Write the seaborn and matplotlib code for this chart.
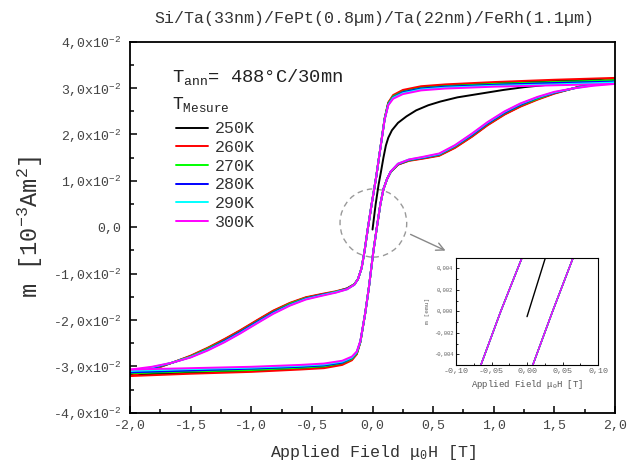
import pandas as pd
import matplotlib
matplotlib.use('Agg')
import matplotlib.pyplot as plt
import seaborn as sns
from matplotlib.patches import Ellipse
from matplotlib.lines import Line2D
from matplotlib.ticker import MultipleLocator, FuncFormatter

# field sweeps (T)
field_down = [2.0, 1.5, 1.0, 0.6, 0.4, 0.25, 0.17, 0.13, 0.10, 0.06, 0.03, -0.007, -0.037, -0.065, -0.09, -0.12,
              -0.15, -0.21, -0.30, -0.42, -0.55, -0.68, -0.82, -0.95, -1.09, -1.22, -1.36, -1.50, -1.65, -1.82, -2.0]
field_up = [-2.0, -1.5, -1.0, -0.6, -0.4, -0.25, -0.17, -0.13, -0.10, -0.06, -0.03, 0.007, 0.036, 0.065, 0.09, 0.12,
            0.15, 0.21, 0.30, 0.42, 0.55, 0.68, 0.82, 0.95, 1.09, 1.22, 1.36, 1.50, 1.65, 1.82, 2.0]
field_virgin = [0.0, 0.025, 0.05, 0.07, 0.09, 0.11, 0.13, 0.16, 0.21, 0.28, 0.36, 0.46, 0.56, 0.70, 0.89, 1.08,
                1.25, 1.44, 1.60, 1.80, 2.0]

# magnetisation, in units of 1e-2 (10^-3 Am^2)
down_250 = [3.19, 3.16, 3.11, 3.06, 3.02, 2.94, 2.83, 2.68, 2.34, 1.62, 1.08, 0.50, 0.00, -0.50, -0.88, -1.12,
            -1.23, -1.32, -1.39, -1.45, -1.52, -1.64, -1.81, -2.01, -2.23, -2.42, -2.61, -2.78, -2.92, -3.07, -3.18]
down_260 = [3.22, 3.18, 3.13, 3.08, 3.04, 2.96, 2.85, 2.69, 2.35, 1.62, 1.08, 0.50, 0.00, -0.50, -0.88, -1.12,
            -1.23, -1.32, -1.38, -1.44, -1.51, -1.63, -1.80, -2.00, -2.22, -2.41, -2.60, -2.77, -2.92, -3.08, -3.21]
down_270 = [3.17, 3.13, 3.09, 3.04, 3.00, 2.92, 2.82, 2.67, 2.34, 1.62, 1.08, 0.50, 0.00, -0.50, -0.88, -1.12,
            -1.23, -1.33, -1.39, -1.46, -1.53, -1.65, -1.83, -2.03, -2.25, -2.44, -2.62, -2.79, -2.92, -3.05, -3.15]
down_280 = [3.14, 3.11, 3.07, 3.03, 2.99, 2.91, 2.80, 2.65, 2.33, 1.62, 1.08, 0.50, 0.00, -0.50, -0.88, -1.12,
            -1.24, -1.33, -1.40, -1.46, -1.54, -1.67, -1.84, -2.04, -2.26, -2.45, -2.64, -2.80, -2.92, -3.04, -3.13]
down_290 = [3.12, 3.08, 3.05, 3.01, 2.97, 2.89, 2.79, 2.64, 2.33, 1.62, 1.08, 0.50, 0.00, -0.50, -0.88, -1.12,
            -1.24, -1.34, -1.40, -1.47, -1.55, -1.68, -1.86, -2.06, -2.28, -2.47, -2.65, -2.80, -2.92, -3.02, -3.10]
down_300 = [3.09, 3.06, 3.03, 2.99, 2.95, 2.87, 2.77, 2.63, 2.32, 1.62, 1.08, 0.50, 0.00, -0.50, -0.88, -1.12,
            -1.24, -1.34, -1.41, -1.48, -1.56, -1.69, -1.87, -2.07, -2.29, -2.48, -2.66, -2.81, -2.92, -3.01, -3.07]

up_250 = [-3.18, -3.14, -3.10, -3.05, -3.02, -2.95, -2.85, -2.73, -2.47, -1.85, -1.30, -0.52, 0.00, 0.50, 0.82, 1.04,
          1.19, 1.35, 1.44, 1.49, 1.55, 1.72, 1.96, 2.21, 2.44, 2.61, 2.76, 2.89, 2.99, 3.11, 3.19]
up_260 = [-3.21, -3.16, -3.12, -3.07, -3.04, -2.97, -2.87, -2.74, -2.48, -1.85, -1.30, -0.52, 0.00, 0.50, 0.82, 1.04,
          1.19, 1.35, 1.43, 1.48, 1.54, 1.71, 1.95, 2.20, 2.43, 2.60, 2.75, 2.88, 2.99, 3.12, 3.22]
up_270 = [-3.15, -3.11, -3.08, -3.03, -3.00, -2.93, -2.84, -2.72, -2.47, -1.85, -1.30, -0.52, 0.00, 0.50, 0.82, 1.04,
          1.19, 1.36, 1.44, 1.50, 1.56, 1.74, 1.98, 2.23, 2.46, 2.63, 2.77, 2.90, 2.99, 3.09, 3.17]
up_280 = [-3.13, -3.09, -3.05, -3.01, -2.98, -2.92, -2.82, -2.70, -2.46, -1.85, -1.30, -0.52, 0.00, 0.50, 0.82, 1.04,
          1.20, 1.36, 1.45, 1.50, 1.57, 1.75, 1.99, 2.24, 2.47, 2.64, 2.79, 2.90, 2.99, 3.08, 3.14]
up_290 = [-3.10, -3.06, -3.03, -2.99, -2.96, -2.90, -2.81, -2.69, -2.46, -1.85, -1.30, -0.52, 0.00, 0.50, 0.82, 1.04,
          1.20, 1.37, 1.46, 1.51, 1.58, 1.76, 2.01, 2.26, 2.49, 2.66, 2.80, 2.91, 2.99, 3.06, 3.12]
up_300 = [-3.07, -3.04, -3.01, -2.97, -2.94, -2.88, -2.79, -2.68, -2.45, -1.85, -1.30, -0.52, 0.00, 0.50, 0.82, 1.04,
          1.20, 1.37, 1.46, 1.52, 1.59, 1.77, 2.02, 2.27, 2.50, 2.67, 2.81, 2.92, 2.99, 3.05, 3.09]

virgin_250 = [-0.05, 0.48, 0.92, 1.20, 1.50, 1.76, 1.93, 2.09, 2.25, 2.39, 2.52, 2.63, 2.71, 2.80, 2.88, 2.96,
              3.02, 3.07, 3.11, 3.15, 3.19]

temps = ['250K', '260K', '270K', '280K', '290K', '300K']
colors = ['#000000', '#ff0000', '#00ff00', '#0000ff', '#00ffff', '#ff00ff']
down_all = [down_250, down_260, down_270, down_280, down_290, down_300]
up_all = [up_250, up_260, up_270, up_280, up_290, up_300]

rows = []
for t, dn, up in zip(temps, down_all, up_all):
    rows += [(h, m, t, 'down') for h, m in zip(field_down, dn)]
    rows += [(h, m, t, 'up') for h, m in zip(field_up, up)]
rows += [(h, m, '250K', 'virgin') for h, m in zip(field_virgin, virgin_250)]
df = pd.DataFrame(rows, columns=['H', 'm', 'T', 'branch'])
df['m_emu'] = df['m'] / 100.0
pal = dict(zip(temps, colors))

sns.set_style('ticks')
mono = 'Liberation Mono'
plt.rcParams['font.family'] = [mono, 'DejaVu Sans']
plt.rcParams['mathtext.fontset'] = 'custom'
plt.rcParams['mathtext.rm'] = mono
plt.rcParams['mathtext.default'] = 'regular'

fig = plt.figure(figsize=(6.29, 4.65), dpi=100)
ax = fig.add_axes([0.2067, 0.1125, 0.7711, 0.7978])

sns.lineplot(data=df, x='H', y='m', hue='T', hue_order=temps, units='branch', estimator=None,
             palette=pal, lw=1.4, legend=False, ax=ax)

ax.set_xlim(-2, 2)
ax.set_ylim(-4, 4)
ax.xaxis.set_major_locator(MultipleLocator(0.5))
ax.xaxis.set_minor_locator(MultipleLocator(0.25))
ax.yaxis.set_major_locator(MultipleLocator(1))
ax.yaxis.set_minor_locator(MultipleLocator(0.5))
ax.xaxis.set_major_formatter(FuncFormatter(lambda v, p: f'{v:.1f}'.replace('.', ',').replace('-0,0', '0,0')))
ax.yaxis.set_major_formatter(FuncFormatter(
    lambda v, p: '0,0' if abs(v) < 1e-9 else f'{v:.1f}'.replace('.', ',') + 'x10$^{-2}$'))
ax.tick_params(which='both', direction='in', top=False, right=False, width=1.1, colors='black',
               labelcolor='#444444', labelsize=9.5)
ax.tick_params(which='major', length=5)
ax.tick_params(which='minor', length=2.8)
ax.tick_params(axis='x', pad=5)
ax.tick_params(axis='y', pad=6)
for s in ax.spines.values():
    s.set_linewidth(1.3)
    s.set_color('black')

ax.set_xlabel('Applied Field μ$_0$H [T]', fontsize=12, color='#333333', labelpad=8)
ax.set_ylabel('m [10$^{-3}$Am$^2$]', fontsize=17, color='#333333', labelpad=6)

fig.text(0.596, 1 - 18 / 465, 'Si/Ta(33nm)/FePt(0.8µm)/Ta(22nm)/FeRh(1.1µm)', ha='center', va='center',
         fontsize=12, color='#333333')

ax.text(0.087, 0.891, 'T$_{ann}$= 488°C/30mn', transform=ax.transAxes, fontsize=13.5, color='#222222',
        va='baseline')
ax.text(0.087, 0.818, 'T$_{Mesure}$', transform=ax.transAxes, fontsize=13, color='#222222', va='baseline')

handles = [Line2D([], [], color=c, lw=1.4) for c in colors]
leg = ax.legend(handles, temps, loc='upper left', bbox_to_anchor=(0.0948, 0.785), frameon=False,
                borderpad=0, borderaxespad=0, handlelength=1.9, handletextpad=0.45, labelspacing=0.22,
                prop={'family': mono, 'size': 12})
for t in leg.get_texts():
    t.set_color('#333333')

# zoom marker
ax.add_patch(Ellipse((0.007, 0.09), 0.55, 1.47, fill=False, ec='#999999', lw=1.0, ls=(0, (4, 3))))
ax.annotate('', xy=(0.623, -0.53), xytext=(0.293, -0.13),
            arrowprops=dict(arrowstyle='->', color='#888888', lw=1.0, mutation_scale=14))

# inset
axi = fig.add_axes([0.725, 0.215, 0.2258, 0.2312])
sns.lineplot(data=df, x='H', y='m_emu', hue='T', hue_order=temps, units='branch', estimator=None,
             palette=pal, lw=1.0, legend=False, ax=axi)
axi.set_xlim(-0.1, 0.1)
axi.set_ylim(-0.005, 0.005)
axi.xaxis.set_major_locator(MultipleLocator(0.05))
axi.xaxis.set_minor_locator(MultipleLocator(0.025))
axi.yaxis.set_major_locator(MultipleLocator(0.002))
axi.yaxis.set_minor_locator(MultipleLocator(0.001))
axi.xaxis.set_major_formatter(FuncFormatter(lambda v, p: f'{v:.2f}'.replace('.', ',').replace('-0,00', '0,00')))
axi.yaxis.set_major_formatter(FuncFormatter(lambda v, p: f'{v:.3f}'.replace('.', ',').replace('-0,000', '0,000')))
axi.tick_params(which='both', direction='in', top=False, right=False, width=0.6, colors='black',
                labelcolor='#666666')
axi.tick_params(which='major', length=2.5)
axi.tick_params(which='minor', length=1.5)
axi.tick_params(axis='x', labelsize=6, pad=2)
axi.tick_params(axis='y', labelsize=4, pad=2)
for s in axi.spines.values():
    s.set_linewidth(0.8)
    s.set_color('black')
axi.set_xlabel('Applied Field μ$_0$H [T]', fontsize=6.5, color='#555555', labelpad=2)
axi.set_ylabel('m [emu]', fontsize=4.5, color='#666666', labelpad=3)

fig.savefig('out.png', dpi=100)
